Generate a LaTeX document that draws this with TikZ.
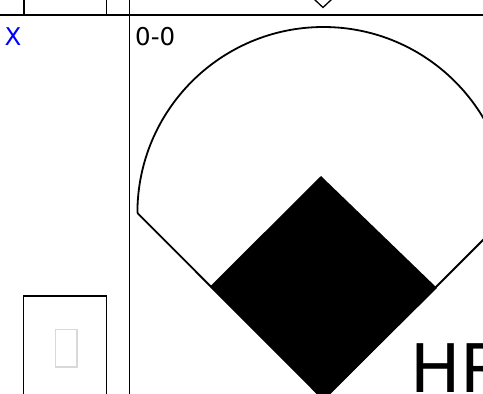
\documentclass[tikz,border=0pt]{standalone}
\usepackage{fontspec}
\setmainfont{DejaVu Sans}
\begin{document}
\begin{tikzpicture}[x=1pt,y=-1pt,
  frame/.style={line width=1.8pt, black},
  field/.style={line width=1.8pt, black, line join=miter},
  label/.style={anchor=base west, inner sep=0pt}]
\useasboundingbox (0,0) rectangle (483,394);
\clip (0,0) rectangle (483,394);
% frame lines
\draw[frame] (0,15) -- (483,15);
\draw[frame] (129.5,0) -- (129.5,394);
\draw[line width=1.4pt] (24,0) -- (24,15);
\draw[line width=1.4pt] (106.5,0) -- (106.5,15);
% small base at top
\draw[line width=1.3pt, fill=white] (323,-9) -- (331.5,-0.5) -- (323,7.5) -- (314.5,-0.5) -- cycle;
% lower box and placeholder
\draw[line width=1.5pt] (23.5,296) rectangle (106.5,400);
\draw[line width=1.3pt, gray!30] (55.5,329.5) rectangle (77,367);
% field
\fill (321,176) -- (437,288) -- (323.5,400) -- (210,286.5) -- cycle;
\draw[field] (137.4,213) -- (323.5,399.5) -- (509.5,213.5);
\draw[field] (137.4,213) arc (180:0:186pt);
% texts
\node[label, text=blue, font=\fontsize{24.5}{29}\selectfont] (x) at (4.5,45) {X};
\node[label, font=\fontsize{24.5}{29}\selectfont] (score) at (135,45) {0-0};
\node[label, font=\fontsize{67}{72}\selectfont] (hr) at (410,392) {HR};
\end{tikzpicture}
\end{document}
